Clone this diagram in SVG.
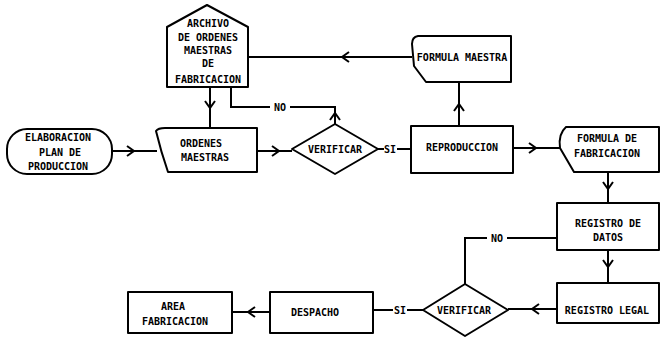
<svg xmlns="http://www.w3.org/2000/svg" xmlns:xlink="http://www.w3.org/1999/xlink" width="662" height="337" viewBox="0 0 662 337">
<style>
.shape{fill:#fff;stroke:#000;stroke-width:2;stroke-linejoin:round}
.line{fill:none;stroke:#000;stroke-width:2}
.t{font-family:"DejaVu Sans Mono","Liberation Mono",monospace;font-weight:bold;font-size:10px;fill:#000;text-anchor:middle}
.lbl{fill:#fff;stroke:none}
</style>
<defs>
<path id="chev" d="M-7,-5 L0,0 L-7,5" fill="none" stroke="#000" stroke-width="2" stroke-linejoin="miter"/>
</defs>
<rect width="662" height="337" fill="#fff"/>
<g id="connectors">
<path class="line" d="M112,151 H157"/>
<use xlink:href="#chev" transform="translate(134,151)"/>
<path class="line" d="M257,151 H292"/>
<use xlink:href="#chev" transform="translate(279,151)"/>
<path class="line" d="M210,87 V129"/>
<use xlink:href="#chev" transform="translate(210,108) rotate(90)"/>
<path class="line" d="M335,124 V107 H231 V87"/>
<use xlink:href="#chev" transform="translate(335,113) rotate(-90)"/>
<rect class="lbl" x="270" y="101" width="20" height="12"/>
<text class="t" x="280" y="111">NO</text>
<path class="line" d="M412,57 H248"/>
<use xlink:href="#chev" transform="translate(342,57) rotate(180)"/>
<path class="line" d="M378,149 H411"/>
<rect class="lbl" x="384" y="143" width="13" height="12"/>
<text class="t" x="390" y="153">SI</text>
<path class="line" d="M459,126 V82"/>
<use xlink:href="#chev" transform="translate(459,104) rotate(-90)"/>
<path class="line" d="M513,148 H561"/>
<use xlink:href="#chev" transform="translate(536,148)"/>
<path class="line" d="M608,172 V203"/>
<use xlink:href="#chev" transform="translate(608,189) rotate(90)"/>
<path class="line" d="M608,250 V283"/>
<use xlink:href="#chev" transform="translate(608,267) rotate(90)"/>
<path class="line" d="M557,309 H508"/>
<use xlink:href="#chev" transform="translate(532,309) rotate(180)"/>
<path class="line" d="M465,284 V238 H557"/>
<rect class="lbl" x="487" y="232" width="20" height="12"/>
<text class="t" x="497" y="242">NO</text>
<path class="line" d="M423,310 H373"/>
<rect class="lbl" x="393" y="304" width="14" height="12"/>
<text class="t" x="400" y="314">SI</text>
<path class="line" d="M270,312 H232"/>
<use xlink:href="#chev" transform="translate(248,312) rotate(180)"/>
</g>
<g id="elaboracion">
<rect class="shape" x="7" y="129" width="105" height="45" rx="20" ry="20"/>
<text class="t" x="58" y="141">ELABORACION</text>
<text class="t" x="60" y="156">PLAN DE</text>
<text class="t" x="58" y="170">PRODUCCION</text>
</g>
<g id="archivo">
<path class="shape" d="M167,27 L207,5 L248,27 V87 H167 Z"/>
<text class="t" x="208" y="27">ARCHIVO</text>
<text class="t" x="208" y="41">DE ORDENES</text>
<text class="t" x="208" y="54">MAESTRAS</text>
<text class="t" x="208" y="67">DE</text>
<text class="t" x="208" y="83">FABRICACION</text>
</g>
<g id="ordenes">
<path class="shape" d="M156,131 Q158,128 165,128 H257 V172 H168 Q161,152 156,131 Z"/>
<text class="t" x="201" y="147">ORDENES</text>
<text class="t" x="205" y="161">MAESTRAS</text>
</g>
<g id="verificar1">
<polygon class="shape" points="292,149 335,124 378,149 335,174"/>
<text class="t" x="335" y="153">VERIFICAR</text>
</g>
<g id="formula_maestra">
<path class="shape" d="M418,36 H511 V82 H426 L414,66 L412,44 Q412,37 418,36 Z"/>
<text class="t" x="462" y="61">FORMULA MAESTRA</text>
</g>
<g id="reproduccion">
<rect class="shape" x="411" y="126" width="102" height="47"/>
<text class="t" x="462" y="151">REPRODUCCION</text>
</g>
<g id="formula_fabricacion">
<path class="shape" d="M566,127 H659 V172 H574 L560,148 Q558,134 566,127 Z"/>
<text class="t" x="607" y="142">FORMULA DE</text>
<text class="t" x="607" y="157">FABRICACION</text>
</g>
<g id="registro_datos">
<rect class="shape" x="557" y="203" width="102" height="47"/>
<text class="t" x="608" y="227">REGISTRO DE</text>
<text class="t" x="608" y="241">DATOS</text>
</g>
<g id="registro_legal">
<rect class="shape" x="557" y="283" width="102" height="40"/>
<text class="t" x="607" y="314">REGISTRO LEGAL</text>
</g>
<g id="verificar2">
<polygon class="shape" points="423,310 465,284 508,310 465,336"/>
<text class="t" x="464" y="314">VERIFICAR</text>
</g>
<g id="despacho">
<rect class="shape" x="270" y="292" width="103" height="41"/>
<text class="t" x="315" y="316">DESPACHO</text>
</g>
<g id="area_fabricacion">
<rect class="shape" x="128" y="292" width="104" height="41"/>
<text class="t" x="173" y="310">AREA</text>
<text class="t" x="175" y="325">FABRICACION</text>
</g>
</svg>
